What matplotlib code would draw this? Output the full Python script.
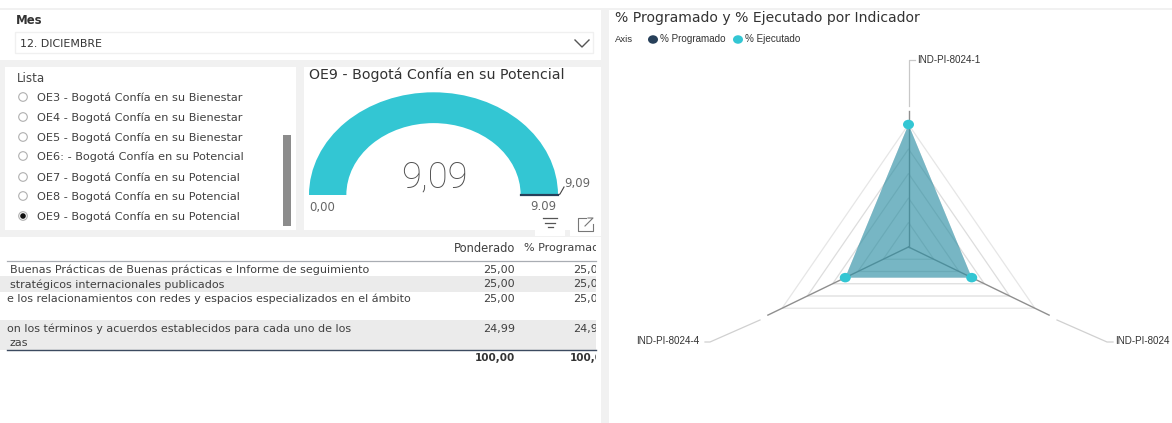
import numpy as np
from matplotlib import pyplot as plt
from matplotlib.patches import Rectangle, Wedge, Circle, Ellipse

W, H = 1172, 423

# slicer
mes_label = "Mes"
mes_value = "12. DICIEMBRE"
lista_label = "Lista"
lista_items = ["OE3 - Bogotá Confía en su Bienestar", "OE4 - Bogotá Confía en su Bienestar",
               "OE5 - Bogotá Confía en su Bienestar", "OE6: - Bogotá Confía en su Potencial",
               "OE7 - Bogotá Confía en su Potencial", "OE8 - Bogotá Confía en su Potencial",
               "OE9 - Bogotá Confía en su Potencial"]
lista_selected = 6

# gauge
gauge_title = "OE9 - Bogotá Confía en su Potencial"
gauge_value = 9.09
gauge_min = 0.0
gauge_max = 9.09
gauge_target = 9.09

# table
table_headers = ["Ponderado", "% Programado"]
table_text = [["Buenas Prácticas de Buenas prácticas e Informe de seguimiento"],
              ["stratégicos internacionales publicados"],
              ["e los relacionamientos con redes y espacios especializados en el ámbito"],
              ["on los términos y acuerdos establecidos para cada uno de los", "zas"]]
ponderado = ["25,00", "25,00", "25,00", "24,99"]
programado = ["25,00", "25,00", "25,00", "24,99"]
total = "100,00"

# radar
radar_title = "% Programado y % Ejecutado por Indicador"
indicators = ["IND-PI-8024-1", "IND-PI-8024", "IND-PI-8024-4"]
pct_programado = [25, 12.5, 12.5]
pct_ejecutado = [25, 12.5, 12.5]
ring_values = [5, 10, 15, 20, 25]
axis_max = 27.8

CYAN = "#33c6d3"
NAVY = "#1f3355"
GUTTER = "#f1f1f1"
TEXT = "#404040"
UI = "DejaVu Sans"
HEAD = "DejaVu Sans"

fig = plt.figure(figsize=(W / 100, H / 100), dpi=100)
ax = fig.add_axes([0, 0, 1, 1])
ax.set_xlim(0, W)
ax.set_ylim(H, 0)
ax.axis("off")


def box(x0, y0, x1, y1, color, z=1, **kw):
    ax.add_patch(Rectangle((x0, y0), x1 - x0, y1 - y0, facecolor=color, edgecolor="none", zorder=z, **kw))


def inset(x0, y0, x1, y1):
    a = fig.add_axes([x0 / W, 1 - y1 / H, (x1 - x0) / W, (y1 - y0) / H])
    a.axis("off")
    return a


# page gutters
box(0, 8, W, 10, GUTTER)
box(0, 60, 601, 67, GUTTER)
box(0, 67, 5, 230, GUTTER)
box(296, 67, 304, 230, GUTTER)
box(0, 230, 601, 237, GUTTER)
box(601, 10, 609, H, GUTTER)

# Mes slicer
ax.text(16, 20.5, mes_label, fontsize=8.4, fontweight="bold", family=UI, color="#333333", va="center")
ax.add_patch(Rectangle((15, 32), 578, 21, facecolor="white", edgecolor="#f0f0f0", lw=1))
ax.text(20, 44, mes_value, fontsize=7.9, family=UI, color="#333333", va="center")
ax.plot([575, 582, 589], [40, 47, 40], color="#555555", lw=1)

# Lista slicer
ax.text(17, 78, lista_label, fontsize=8.6, family=UI, color="#444444", va="center")
row_y = [97, 117, 137, 156, 177, 196, 216]
for i, (label, y) in enumerate(zip(lista_items, row_y)):
    ax.add_patch(Circle((23, y), 4.3, facecolor="white", edgecolor="#b0b0b0", lw=0.8))
    if i == lista_selected:
        ax.add_patch(Circle((23, y), 2.8, facecolor="#111111", edgecolor="none", zorder=3))
    ax.text(37, y + 0.5, label, fontsize=8.1, family=UI, color=TEXT, va="center")
box(283, 135, 291, 226, "#8c8c8c")

# gauge
ax.text(309, 75, gauge_title, fontsize=10.2, family=HEAD, color="#333333", va="center")
g = inset(309, 92.3, 558, 195)
g.set_xlim(-1, 1)
g.set_ylim(0, 1)
frac = (gauge_value - gauge_min) / (gauge_max - gauge_min)
g.add_patch(Wedge((0, 0), 1, 180 * (1 - frac), 180, width=0.3, facecolor=CYAN, edgecolor="none"))
t = np.pi * (1 - (gauge_target - gauge_min) / (gauge_max - gauge_min))
g.plot([0.7 * np.cos(t), np.cos(t)], [0.7 * np.sin(t) + 0.004, np.sin(t) + 0.004], color="#27405a", lw=1.6,
       clip_on=False)
ax.text(434, 177, f"{gauge_value:.2f}".replace(".", ","), fontsize=26, family="Roboto", fontweight="light",
        color="#505050", ha="center", va="center")
ax.text(309, 207, f"{gauge_min:.2f}".replace(".", ","), fontsize=8.4, family=UI, color="#666666", va="center")
ax.text(530, 207, f"{gauge_target:.2f}", fontsize=8.4, family=UI, color="#666666", va="center")
ax.text(564, 183, f"{gauge_max:.2f}".replace(".", ","), fontsize=8.4, family=UI, color="#666666", va="center")
ax.plot([558, 560, 564], [195, 194, 187], color="#444444", lw=0.8)

# visual header icons
box(535, 216, 565, 236, "white", z=2)
box(570, 213, 601, 236, "white", z=2)
for half, y in zip([7, 5, 2.5], [218, 223, 227]):
    ax.plot([550 - half, 550 + half], [y, y], color="#555555", lw=0.9, zorder=3)
ax.plot([586, 578, 578, 593, 593], [218, 218, 231, 231, 224], color="#777777", lw=0.8, zorder=3)
ax.plot([585, 593, 593, 588], [226, 218, 218, 218], color="#777777", lw=0.8, zorder=3)

# table
clip = Rectangle((7, 237), 589, 186, transform=ax.transData)
line_y = [[270], [284.5], [299], [329, 343]]
box(0, 276, 596, 292, "#ebebeb")
box(0, 320, 596, 350, "#ebebeb")
ax.plot([7, 596], [261, 261], color="#a9adb3", lw=0.9)
ax.plot([7, 596], [350.5, 350.5], color="#3c4a60", lw=1)
ax.text(515, 248, table_headers[0], fontsize=8.3, family=UI, color=TEXT, ha="right", va="center")
hdr = ax.text(524, 248, table_headers[1], fontsize=8, family=UI, color=TEXT, va="center")
cells = [hdr]
for lines, ys, pond, prog in zip(table_text, line_y, ponderado, programado):
    for txt, y in zip(lines, ys):
        x = 10 if txt[:2] in ("Bu", "st", "za") else 7
        cells.append(ax.text(x, y, txt, fontsize=8, family=UI, color=TEXT, va="center"))
    ax.text(515, ys[0], pond, fontsize=8, family=UI, color=TEXT, ha="right", va="center")
    cells.append(ax.text(573, ys[0], prog, fontsize=8, family=UI, color=TEXT, va="center"))
ax.text(515, 358, total, fontsize=7.5, family=UI, fontweight="bold", color="#333333", ha="right", va="center")
cells.append(ax.text(570, 358, total, fontsize=7.5, family=UI, fontweight="bold", color="#333333", va="center"))
for c in cells:
    c.set_clip_path(clip)
    c.set_clip_on(True)

# radar
ax.text(615, 18, radar_title, fontsize=10.1, family=HEAD, color="#333333", va="center")
ax.text(615, 39, "Axis", fontsize=6.8, family="Liberation Sans", color="#333333", va="center")
ax.add_patch(Ellipse((653, 39.5), 10, 8.5, facecolor="#27405a", edgecolor="none"))
ax.text(660, 39, "% Programado", fontsize=7.1, family="Liberation Sans", color="#333333", va="center")
ax.add_patch(Ellipse((738, 39.5), 10, 8.5, facecolor=CYAN, edgecolor="none"))
ax.text(745, 39, "% Ejecutado", fontsize=7.1, family="Liberation Sans", color="#333333", va="center")

# 5.84 px per unit across, 4.9 px per unit down: the source screenshot is stretched
cx, cy = 908.5, 247
xu, yu = 5.84, 4.9
r = inset(cx - 30 * xu, cy - 30 * yu, cx + 30 * xu, cy + 30 * yu)
r.set_xlim(-30, 30)
r.set_ylim(-30, 30)
angles = np.array([0, 120, 240]) * np.pi / 180


def xy(vals):
    v = np.asarray(vals, dtype=float)
    return v * np.sin(angles), v * np.cos(angles)


for k, v in enumerate(ring_values):
    x, y = xy([v] * 3)
    r.fill(x, y, facecolor="none", edgecolor=["#dddddd", "#dddddd", "#dddddd", "#dddddd", "#e6e6e6"][k], lw=0.9)
for a in angles:
    r.plot([0, axis_max * np.sin(a)], [0, axis_max * np.cos(a)], color="#8f8f8f", lw=1)
px, py = xy(pct_programado)
ex, ey = xy(pct_ejecutado)
r.fill(px, py, facecolor=NAVY, alpha=0.4, edgecolor="none", zorder=3)
r.fill(ex, ey, facecolor=CYAN, alpha=0.4, edgecolor="none", zorder=3)
for xv, yv in zip(ex, ey):
    r.add_patch(Ellipse((xv, yv), 11 / xu, 9.5 / yu, facecolor=CYAN, edgecolor="none", zorder=4))

# label leader lines
ax.plot([915, 908.5, 908.5], [60, 60, 106], color="#c8c8c8", lw=0.9)
ax.plot([1057, 1107, 1113], [320, 342, 342], color="#d0d0d0", lw=0.9)
ax.plot([760, 710, 705], [320, 342, 342], color="#d0d0d0", lw=0.9)
ax.text(917, 60, indicators[0], fontsize=7.1, family="Liberation Sans", color="#333333", va="center")
ax.text(1115, 341.5, indicators[1], fontsize=7.1, family="Liberation Sans", color="#333333", va="center")
ax.text(636, 341.5, indicators[2], fontsize=7.1, family="Liberation Sans", color="#333333", va="center")

fig.savefig("out.png", dpi=100)
